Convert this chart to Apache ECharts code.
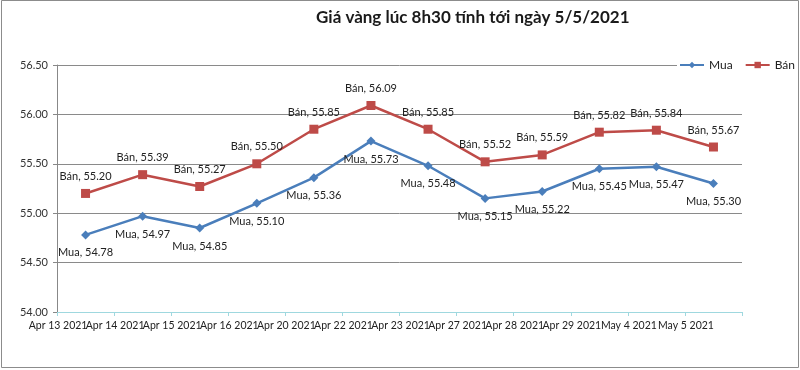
<!DOCTYPE html>
<html>
<head>
<meta charset="utf-8">
<script src="https://cdn.jsdelivr.net/npm/echarts@6/dist/echarts.min.js"></script>
<style>
html,body{margin:0;padding:0;background:#fff;}
#c{width:800px;height:370px;}
</style>
</head>
<body>
<div id="c"></div>
<script>
const categories = ["Apr 13 2021","Apr 14 2021","Apr 15 2021","Apr 16 2021","Apr 20 2021","Apr 22 2021","Apr 23 2021","Apr 27 2021","Apr 28 2021","Apr 29 2021","May 4 2021","May 5 2021"];
const muaValues = [54.78,54.97,54.85,55.10,55.36,55.73,55.48,55.15,55.22,55.45,55.47,55.30];
const banValues = [55.20,55.39,55.27,55.50,55.85,56.09,55.85,55.52,55.59,55.82,55.84,55.67];
const titleText = "Giá vàng lúc 8h30 tính tới ngày 5/5/2021";

const FONT = "Lato, 'Open Sans', sans-serif";
const chart = echarts.init(document.getElementById('c'), null, {renderer:'canvas'});
const fmt = p => p.seriesName + ', ' + Number(p.value).toFixed(2);
chart.setOption({
  backgroundColor: '#fff',
  animation: false,
  title: {
    text: titleText, left: 311, top: 4,
    textStyle: {fontFamily: FONT, fontSize: 17, fontWeight: 'bold', color: '#1a1a1a'}
  },
  legend: {
    right: 3, top: 57, itemWidth: 24, itemHeight: 8, itemGap: 12,
    backgroundColor: '#fff', padding: [2, 2, 2, 2],
    textStyle: {fontFamily: FONT, fontSize: 12, color: '#222'},
    data: ['Mua','Bán']
  },
  grid: {left: 57, right: 58, top: 65, bottom: 58},
  xAxis: {
    type: 'category', data: categories, boundaryGap: true,
    axisLine: {lineStyle: {color: '#9fd8df', width: 1}},
    axisTick: {show: true, length: 4, lineStyle: {color: '#9fd8df'}},
    axisLabel: {fontFamily: FONT, fontSize: 10.5, color: '#222', margin: 8, interval: 0, padding: [0, 55, 0, 0]},
    splitLine: {show: false}
  },
  yAxis: {
    type: 'value', min: 54, max: 56.5, interval: 0.5,
    axisLine: {show: true, lineStyle: {color: '#888'}},
    axisTick: {show: true, length: 4, inside: false, lineStyle: {color: '#888'}},
    axisLabel: {fontFamily: FONT, fontSize: 11, color: '#333', margin: 9, formatter: v => v.toFixed(2)},
    splitLine: {lineStyle: {color: '#8a8a8a', width: 1}}
  },
  series: [
    {
      name: 'Mua', type: 'line', data: muaValues,
      symbol: 'diamond', symbolSize: 9,
      lineStyle: {color: '#4a7ebb', width: 2.5},
      itemStyle: {color: '#4a7ebb'},
      label: {show: true, position: 'bottom', distance: 8, formatter: fmt,
              fontFamily: FONT, fontSize: 11, color: '#222'}
    },
    {
      name: 'Bán', type: 'line', data: banValues,
      symbol: 'rect', symbolSize: 9,
      lineStyle: {color: '#be4b48', width: 2.5},
      itemStyle: {color: '#be4b48'},
      label: {show: true, position: 'top', distance: 7, formatter: fmt,
              fontFamily: FONT, fontSize: 11, color: '#222'}
    }
  ],
  graphic: [{
    type: 'rect', silent: true, z: 100,
    shape: {x: 1.5, y: 0.5, width: 797, height: 367},
    style: {fill: 'none', stroke: '#8c8c8c', lineWidth: 1}
  }]
});
</script>
</body>
</html>
